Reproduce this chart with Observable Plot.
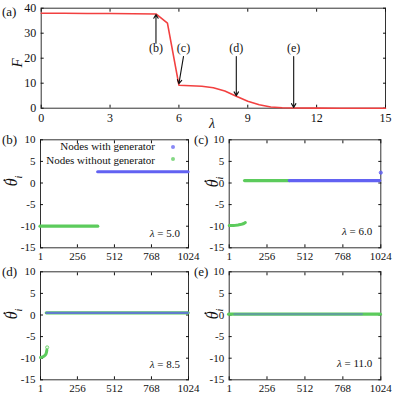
<!DOCTYPE html>
<html><head><meta charset="utf-8">
<script src="https://cdn.jsdelivr.net/npm/d3@7"></script>
<script src="https://cdn.jsdelivr.net/npm/@observablehq/plot@0.6"></script>
<style>
body{margin:0;background:#fff;}
#wrap{position:relative;width:397px;height:397px;font-family:"Liberation Serif","Times New Roman",serif;overflow:hidden;color:#111;}
#wrap svg, #wrap svg text{font-family:"Liberation Serif","Times New Roman",serif !important;}
.lab{position:absolute;line-height:1;white-space:nowrap;}
.rot{position:absolute;line-height:1;white-space:nowrap;transform:translate(-50%,-50%) rotate(-90deg);}
.th{position:relative;display:inline-block;}
.th::before{content:"";position:absolute;width:2.2px;height:2.2px;border-radius:50%;background:#111;left:58%;top:-1px;}
</style></head><body><div id="wrap"></div>
<script>
// ---------- panel (a): F versus lambda ----------
const lambdaValues = [0, 1, 2, 3, 4, 5, 5.5, 6, 6.5, 7, 7.5, 8, 8.5, 9, 9.5, 10, 10.5, 11, 12, 13, 14, 15];
const fValues      = [38.0, 38.0, 37.9, 37.9, 37.8, 37.7, 34.0, 9.2, 9.0, 8.8, 8.2, 6.9, 4.8, 2.8, 1.4, 0.5, 0.15, 0.05, 0.02, 0, 0, 0];
const lambdaTicks = [0, 3, 6, 9, 12, 15];
const fTicks = [0, 10, 20, 30, 40];

const arrowNames      = ["(b)", "(c)", "(d)", "(e)"];
const arrowLambdaFrom = [5.0, 6.2, 8.5, 11.0];
const arrowFFrom      = [26.0, 20.7, 20.7, 20.7];
const arrowLambdaTo   = [5.0, 6.0, 8.5, 11.0];
const arrowFTo        = [37.5, 9.8, 5.0, 0.3];
const arrowLabelLambda = [5.0, 6.2, 8.5, 11.0];
const arrowLabelF      = [23.9, 23.9, 23.9, 23.9];

// ---------- panels (b)-(e): node frequencies ----------
const nodeTicks = [1, 256, 512, 768, 1024];
const rateTicks = [10, 5, 0, -5, -10, -15];
const groups = ["with", "without"];
const groupNames = ["Nodes with generator", "Nodes without generator"];

// (b) lambda = 5.0
const runsB = [
  {group: "without", from: 1, to: 400, rate: -10.0},
  {group: "with", from: 400, to: 1024, rate: 2.6}
];
// (c) lambda = 6.0
const runsC = [
  {group: "without", from: 108, to: 410, rate: 0.55},
  {group: "with", from: 410, to: 1020, rate: 0.55}
];
const curveCIndex = [1, 15, 30, 45, 60, 75, 90, 100, 110];
const curveCRate  = [-9.85, -9.84, -9.82, -9.78, -9.72, -9.63, -9.5, -9.38, -9.15];
const loneCIndex = [1024];
const loneCRate  = [2.4];
// (d) lambda = 8.5
const runsD = [
  {group: "without", from: 45, to: 1024, rate: 0.5},
  {group: "with", from: 45, to: 1024, rate: 0.5}
];
const curveDIndex = [1, 8, 16, 24, 32, 38, 42, 45];
const curveDRate  = [-9.85, -9.8, -9.7, -9.55, -9.35, -9.1, -8.7, -8.1];
const loneDIndex = [47];
const loneDRate  = [-7.5];
// (e) lambda = 11.0
const runsE = [
  {group: "without", from: 1, to: 1024, rate: 0.2},
  {group: "with", from: 40, to: 900, rate: 0.2}
];
const panelLambdas = ["5.0", "6.0", "8.5", "11.0"];

// ---------- drawing ----------
const BLUE = "#6262f2", GREEN = "#5ccb5c", RED = "#f24040";
const FONT = '"Liberation Serif","Times New Roman",serif';
const wrap = document.getElementById("wrap");

function place(svg, left, topPx) {
  svg.style.position = "absolute";
  svg.style.left = left + "px";
  svg.style.top = topPx + "px";
  svg.style.maxWidth = "none";
  svg.style.overflow = "visible";
  svg.style.background = "transparent";
  wrap.appendChild(svg);
}
function label(html, css, cls = "lab") {
  const d = document.createElement("div");
  d.className = cls;
  d.innerHTML = html;
  d.style.cssText += css;
  wrap.appendChild(d);
}
function frameAxes(xTicks, yTicks, padX, padY, fmt, fs) {
  return [
    Plot.frame({stroke: "#333", strokeWidth: 1}),
    Plot.axisX({anchor: "bottom", ticks: xTicks, tickSize: -3, tickPadding: padX, tickFormat: fmt, label: null, fontFamily: FONT, fontSize: fs}),
    Plot.axisX({anchor: "top", ticks: xTicks, tickSize: -3, tickFormat: () => "", label: null}),
    Plot.axisY({anchor: "left", ticks: yTicks, tickSize: -3, tickPadding: padY, tickFormat: fmt, label: null, fontFamily: FONT, fontSize: fs}),
    Plot.axisY({anchor: "right", ticks: yTicks, tickSize: -3, tickFormat: () => "", label: null})
  ];
}

// panel (a)
const fData = lambdaValues.map((l, i) => ({lambda: l, F: fValues[i]}));
const arrows = arrowNames.map((n, i) => ({
  name: n, l1: arrowLambdaFrom[i], f1: arrowFFrom[i], l2: arrowLambdaTo[i], f2: arrowFTo[i],
  lx: arrowLabelLambda[i], ly: arrowLabelF[i]
}));
const topPlot = Plot.plot({
  width: 397, height: 132,
  marginLeft: 40.7, marginRight: 12, marginTop: 7.7, marginBottom: 24.3,
  style: {fontFamily: FONT, fontSize: "12px", color: "#111", background: "transparent"},
  x: {domain: [0, 15]},
  y: {domain: [0, 40]},
  marks: [
    ...frameAxes(lambdaTicks, fTicks, 8, 8, d => String(d), 12),
    Plot.line(fData, {x: "lambda", y: "F", stroke: RED, strokeWidth: 1.6}),
    Plot.arrow(arrows, {x1: "l1", y1: "f1", x2: "l2", y2: "f2", stroke: "#111", strokeWidth: 1.1, headLength: 6}),
    Plot.text(arrows, {x: "lx", y: "ly", text: "name", fontSize: 12, fill: "#111", fontFamily: FONT})
  ]
});
place(topPlot, 0, 0);
label("(a)", "left:2px;top:5px;font-size:13px;");
label("<i>F</i>", "left:17px;top:63px;font-size:15px;", "rot");
label("<i>λ</i>", "left:209px;top:117px;font-size:14px;");

// panels (b)-(e)
function panel(runs, curveIndex, curveRate, loneIndex, loneRate, mixed, geom) {
  const curve = curveIndex.map((x, i) => ({index: x, rate: curveRate[i]}));
  const lone = loneIndex.map((x, i) => ({index: x, rate: loneRate[i]}));
  const marks = [...frameAxes(nodeTicks, rateTicks, 7.5, 8, d => String(d), 11)];
  const withRuns = runs.filter(r => r.group === "with");
  const withoutRuns = runs.filter(r => r.group === "without");
  if (mixed) {
    marks.push(Plot.ruleY(withoutRuns, {y: "rate", x1: "from", x2: "to", stroke: "group", strokeWidth: 3.4, strokeLinecap: "round"}));
    marks.push(Plot.ruleY(withRuns, {y: "rate", x1: "from", x2: "to", stroke: "group", strokeWidth: 2.2, strokeOpacity: mixed, strokeLinecap: "round"}));
  } else {
    marks.push(Plot.ruleY(runs, {y: "rate", x1: "from", x2: "to", stroke: "group", strokeWidth: 3.2, strokeLinecap: "round"}));
  }
  if (curve.length) marks.push(Plot.line(curve, {x: "index", y: "rate", stroke: GREEN, strokeWidth: 3, strokeLinecap: "round", strokeLinejoin: "round"}));
  if (lone.length) marks.push(Plot.dot(lone, {x: "index", y: "rate", r: 1.6, fill: geom.loneColor, fillOpacity: geom.loneFill, stroke: geom.loneColor, strokeWidth: 0.8}));
  return Plot.plot({
    width: geom.w, height: geom.h,
    marginLeft: geom.ml, marginRight: geom.mr, marginTop: geom.mt, marginBottom: geom.mb,
    style: {fontFamily: FONT, fontSize: "11px", color: "#111", background: "transparent"},
    x: {domain: [1, 1024]},
    y: {domain: [-15, 10]},
    color: {domain: groups, range: [BLUE, GREEN]},
    marks
  });
}
const row1 = {h: 130, mt: 7.3, mb: 14.7};
const row2 = {h: 135, mt: 9.3, mb: 17.7};
const colL = {w: 196, ml: 40, mr: 8};
const colR = {w: 201, ml: 32.7, mr: 16.7};

place(panel(runsB, [], [], [], [], 0, {...row1, ...colL}), 0, 132);
place(panel(runsC, curveCIndex, curveCRate, loneCIndex, loneCRate, 0, {...row1, ...colR, loneColor: BLUE, loneFill: 0.8}), 196, 132);
place(panel(runsD, curveDIndex, curveDRate, loneDIndex, loneDRate, 0.75, {...row2, ...colL, loneColor: GREEN, loneFill: 0.15}), 0, 262);
place(panel(runsE, [], [], [], [], 0.4, {...row2, ...colR}), 196, 262);

// panel letters, axis labels, lambda notes
label("(b)", "left:2px;top:133px;font-size:13px;");
label("(c)", "left:194px;top:133px;font-size:13px;");
label("(d)", "left:2px;top:265px;font-size:13px;");
label("(e)", "left:194px;top:265px;font-size:13px;");
const thetaLab = '<i><span class="th">θ</span><sub style="font-size:10px">i</sub></i>';
label(thetaLab, "left:14px;top:181px;font-size:16px;", "rot");
label(thetaLab, "left:215px;top:182px;font-size:16px;", "rot");
label(thetaLab, "left:14px;top:314px;font-size:16px;", "rot");
label(thetaLab, "left:215px;top:314px;font-size:16px;", "rot");
const lamPos = [[217, 228], [24.7, 226], [217, 359], [24.7, 358]];
panelLambdas.forEach((v, i) => label(`<i>λ</i> = ${v}`, `right:${lamPos[i][0]}px;top:${lamPos[i][1]}px;font-size:11px;`));

// legend in (b)
label(groupNames[0], "right:242px;top:141px;font-size:11px;");
label(groupNames[1], "right:242px;top:154.5px;font-size:11px;");
label(`<span style="display:inline-block;width:4px;height:4px;border-radius:50%;background:${BLUE};opacity:0.75"></span>`, "left:170.7px;top:144.7px;font-size:4px;");
label(`<span style="display:inline-block;width:4px;height:4px;border-radius:50%;background:${GREEN};opacity:0.75"></span>`, "left:170.7px;top:157.3px;font-size:4px;");
</script>
</body></html>
